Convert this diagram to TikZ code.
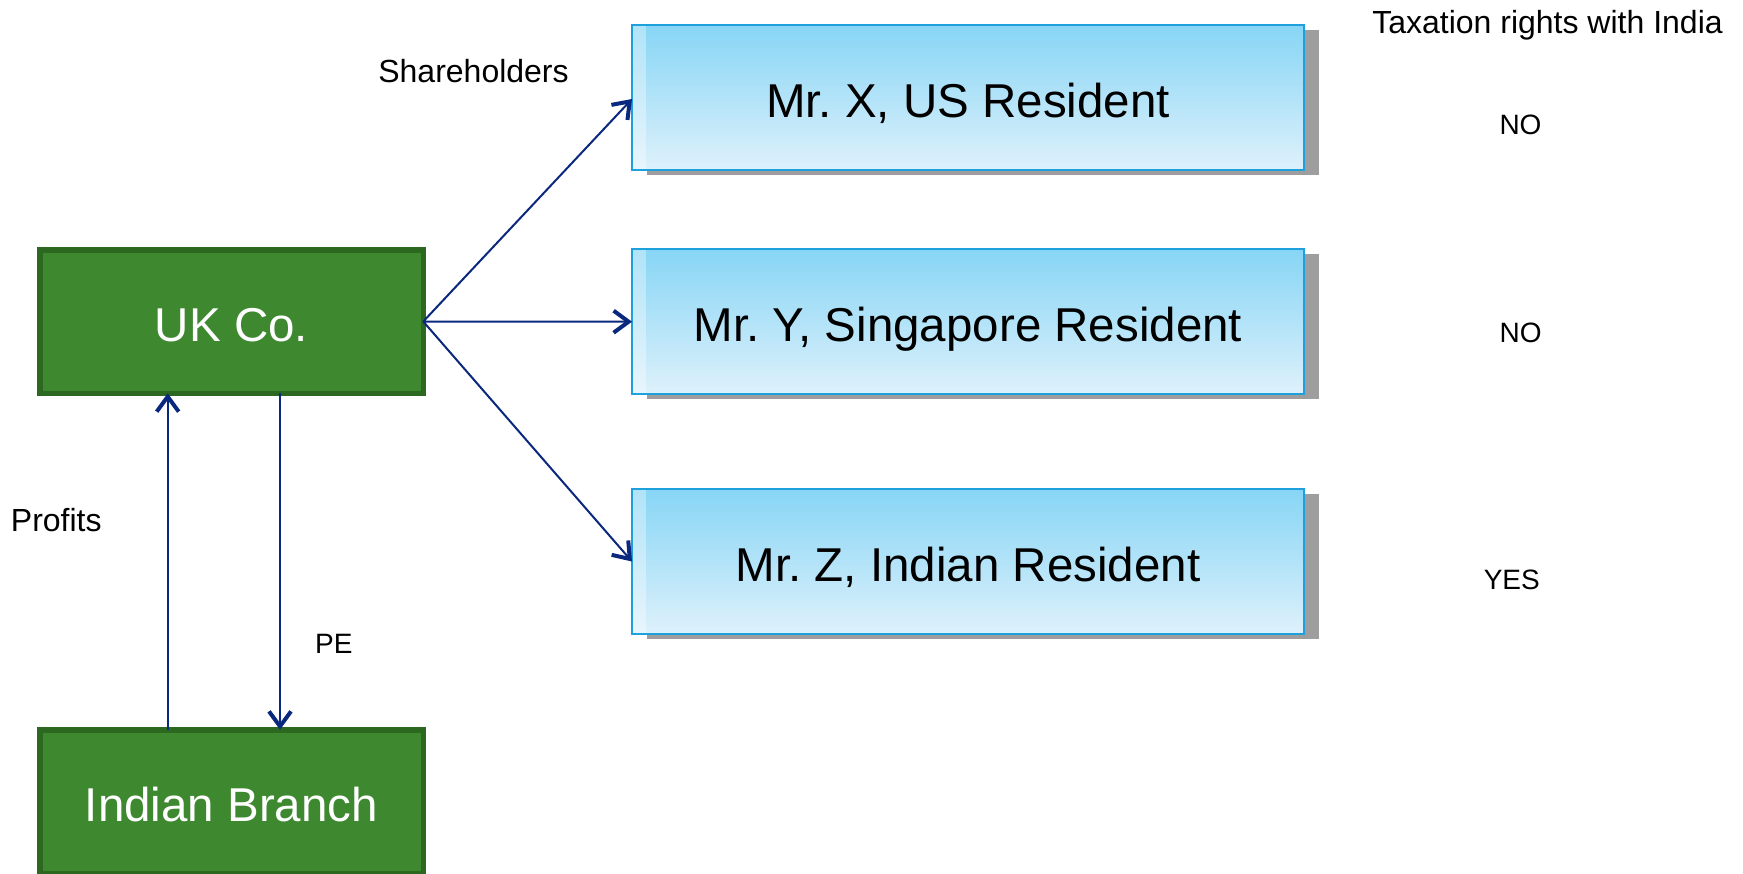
\documentclass[tikz,border=0pt]{standalone}
\usepackage{fontspec}
\setmainfont{Liberation Sans}
\usetikzlibrary{arrows.meta,shadows}
\definecolor{gfill}{RGB}{62,137,48}
\definecolor{gdraw}{RGB}{45,104,33}
\definecolor{btop}{RGB}{135,213,245}
\definecolor{bbot}{RGB}{222,241,251}
\definecolor{bdraw}{RGB}{30,160,220}
\definecolor{arrc}{RGB}{10,40,125}
\definecolor{shad}{RGB}{158,158,158}
\frenchspacing
\begin{document}
\begin{tikzpicture}[x=1pt,y=-1pt,
  greenbox/.style={draw=gdraw,fill=gfill,line width=5.5pt,minimum width=383.5pt,minimum height=143.5pt,
    inner sep=0pt,outer sep=0pt,text=white,font=\fontsize{47.5}{50}\selectfont,text height=39pt,text depth=0pt},
  bluebox/.style={draw=bdraw,line width=2pt,top color=btop,bottom color=bbot,minimum width=672pt,minimum height=145pt,
    inner sep=0pt,outer sep=0pt,font=\fontsize{47.5}{50}\selectfont,text height=39pt,text depth=0pt,
    drop shadow={shadow xshift=15pt,shadow yshift=-4.5pt,fill=shad,opacity=1},
    path picture={\fill[white,opacity=0.35] (path picture bounding box.north west) rectangle ([xshift=14pt]path picture bounding box.south west);}},
  conn/.style={draw=arrc,line width=2pt,-{Straight Barb[length=15pt,width=22pt,line width=4pt]}},
  lbl/.style={anchor=base,inner sep=0pt,font=\fontsize{32}{36}\selectfont},
  ans/.style={anchor=base,inner sep=0pt,font=\fontsize{28}{32}\selectfont}]
\useasboundingbox (0,0) rectangle (1743,873);

\node[greenbox] (uk) at (231.5,321.5) {UK Co.};
\node[greenbox] (ib) at (231.5,801.5) {Indian Branch};
\node[bluebox] (x) at (968,97.5) {Mr. X, US Resident};
\node[bluebox] (y) at (968,321.7) {Mr. Y, Singapore Resident};
\node[bluebox] (z) at (968,561.5) {Mr. Z, Indian Resident};

\node[lbl] (sh) at (473.5,82) {Shareholders};
\node[lbl] (tax) at (1547.5,33.3) {Taxation rights with India};
\node[ans] (n1) at (1520.5,134.3) {NO};
\node[ans] (n2) at (1520.7,342.4) {NO};
\node[ans] (n3) at (1511.8,589) {YES};
\node[lbl] (pr) at (56.3,531.7) {Profits};
\node[ans] (pe) at (333.8,653.3) {PE};

\draw[conn] (uk.east) -- ([yshift=-1.5pt]x.west);
\draw[conn] (uk.east) -- (y.west);
\draw[conn] (uk.east) -- (z.west);
\draw[conn] ([xshift=-63.8pt]ib.north) -- ([xshift=-63.8pt]uk.south);
\draw[conn] ([xshift=48.5pt]uk.south) -- ([xshift=48.5pt]ib.north);
\end{tikzpicture}
\end{document}
